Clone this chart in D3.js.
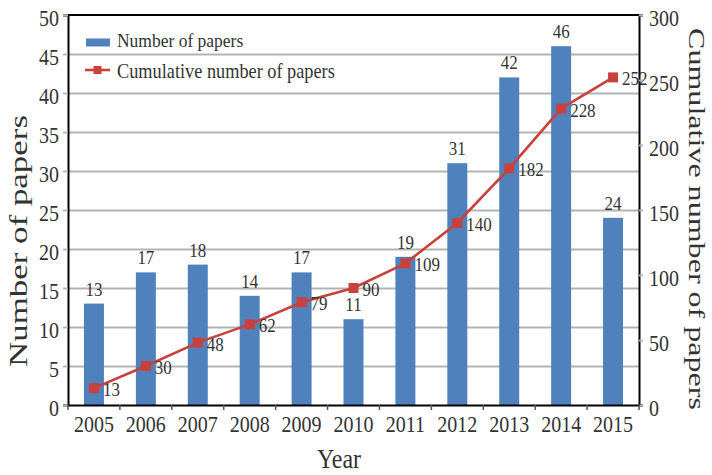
<!DOCTYPE html>
<html>
<head>
<meta charset="utf-8">
<script src="https://cdn.jsdelivr.net/npm/d3@7"></script>
<style>
  html, body { margin: 0; padding: 0; background: #fff; }
  svg { display: block; }
  text { font-family: "Liberation Serif", "Times New Roman", serif; fill: #333; }
</style>
</head>
<body>
<svg id="chart" width="712" height="475"></svg>
<script>
// Papers published per year and their running total
const years = ["2005", "2006", "2007", "2008", "2009", "2010", "2011", "2012", "2013", "2014", "2015"];
const papers = [13, 17, 18, 14, 17, 11, 19, 31, 42, 46, 24];
const cumulative = [13, 30, 48, 62, 79, 90, 109, 140, 182, 228, 252];
const leftTicks = [0, 5, 10, 15, 20, 25, 30, 35, 40, 45, 50];
const rightTicks = [0, 50, 100, 150, 200, 250, 300];

const barColor = "#4f81bd";
const lineColor = "#c9413c";
const gridColor = "#b3b3b3";

const svg = d3.select("#chart");
const plot = { left: 68, right: 639, top: 15, bottom: 405 };
const stretch = 1.15;

const x = d3.scaleBand().domain(years)
  .range([plot.left, plot.right])
  .paddingInner(0.615).paddingOuter(0.3075);
const yL = d3.scaleLinear().domain([0, 50]).range([plot.bottom, plot.top]);
const yR = d3.scaleLinear().domain([0, 300]).range([plot.bottom, plot.top]);

// horizontal gridlines
svg.append("g")
  .attr("transform", `translate(${plot.left},0)`)
  .call(d3.axisLeft(yL).tickValues(leftTicks.slice(1, -1)).tickSize(-(plot.right - plot.left)).tickFormat(""))
  .call(g => g.select(".domain").remove())
  .call(g => g.selectAll("line").attr("stroke", gridColor).attr("stroke-width", 1.8));

// bars
svg.append("g").selectAll("rect")
  .data(years)
  .join("rect")
  .attr("x", d => x(d))
  .attr("width", x.bandwidth())
  .attr("y", (d, i) => yL(papers[i]))
  .attr("height", (d, i) => yL(0) - yL(papers[i]))
  .attr("fill", barColor);

// bar value labels
svg.append("g").selectAll("text")
  .data(years)
  .join("text")
  .attr("text-anchor", "middle")
  .attr("font-size", 17)
  .attr("transform", (d, i) => `translate(${x(d) + x.bandwidth() / 2},${yL(papers[i]) - 8}) scale(1,${stretch})`)
  .text((d, i) => papers[i]);

// cumulative line
const cx = d => x(d) + x.bandwidth() / 2;
const line = d3.line().x((d, i) => cx(years[i])).y(d => yR(d));
svg.append("path")
  .datum(cumulative)
  .attr("d", line)
  .attr("fill", "none")
  .attr("stroke", lineColor)
  .attr("stroke-width", 2.6);

svg.append("g").selectAll("rect")
  .data(cumulative)
  .join("rect")
  .attr("x", (d, i) => cx(years[i]) - 5)
  .attr("y", d => yR(d) - 5)
  .attr("width", 10)
  .attr("height", 10)
  .attr("fill", lineColor);

svg.append("g").selectAll("text")
  .data(cumulative)
  .join("text")
  .attr("font-size", 17)
  .attr("transform", (d, i) => `translate(${cx(years[i]) + 9},${yR(d) + 8}) scale(1,${stretch})`)
  .text(d => d);

// axes
const fontAxis = 20;
svg.append("g")
  .attr("transform", `translate(${plot.left},0)`)
  .call(d3.axisLeft(yL).tickValues(leftTicks).tickSize(5).tickPadding(4))
  .call(g => g.select(".domain").attr("stroke", "#000").attr("stroke-width", 2))
  .call(g => g.selectAll(".tick line").attr("stroke", gridColor).attr("stroke-width", 1.8))
  .call(g => g.selectAll("text")
    .attr("font-size", fontAxis).attr("font-family", "Liberation Serif").attr("fill", "#3a3a3a")
    .attr("y", 0).attr("dy", 0).attr("x", 0)
    .attr("transform", `translate(-9,10) scale(1,${stretch})`));

svg.append("g")
  .attr("transform", `translate(${plot.right},0)`)
  .call(d3.axisRight(yR).tickValues(rightTicks).tickSize(4).tickPadding(6))
  .call(g => g.select(".domain").attr("stroke", "#000").attr("stroke-width", 2))
  .call(g => g.selectAll(".tick line").attr("stroke", gridColor).attr("stroke-width", 1.8))
  .call(g => g.selectAll("text")
    .attr("font-size", fontAxis).attr("font-family", "Liberation Serif").attr("fill", "#3a3a3a")
    .attr("y", 0).attr("dy", 0).attr("x", 0)
    .attr("transform", `translate(10,10) scale(1,${stretch})`));

svg.append("g")
  .attr("transform", `translate(0,${plot.bottom})`)
  .call(d3.axisBottom(x).tickSize(0))
  .call(g => g.select(".domain").attr("stroke", "#000").attr("stroke-width", 2))
  .call(g => g.selectAll("text")
    .attr("font-size", fontAxis).attr("font-family", "Liberation Serif").attr("fill", "#3a3a3a")
    .attr("y", 0).attr("dy", 0)
    .attr("transform", `translate(0,27) scale(1,${stretch})`));

// category boundary ticks below the x axis
svg.append("g").selectAll("line")
  .data(d3.range(years.length + 1))
  .join("line")
  .attr("x1", i => plot.left + i * x.step())
  .attr("x2", i => plot.left + i * x.step())
  .attr("y1", plot.bottom)
  .attr("y2", plot.bottom + 5)
  .attr("stroke", "#555")
  .attr("stroke-width", 1.5);

// top frame
svg.append("line")
  .attr("x1", plot.left).attr("x2", plot.right)
  .attr("y1", plot.top).attr("y2", plot.top)
  .attr("stroke", "#000").attr("stroke-width", 2);

// axis titles
svg.append("text")
  .attr("font-size", 25)
  .attr("text-anchor", "middle")
  .attr("fill", "#3a3a3a")
  .attr("transform", "translate(27,241) rotate(-90)")
  .attr("textLength", 252)
  .attr("lengthAdjust", "spacingAndGlyphs")
  .text("Number of papers");

svg.append("text")
  .attr("font-size", 24)
  .attr("text-anchor", "middle")
  .attr("fill", "#3a3a3a")
  .attr("transform", "translate(689,219) rotate(90)")
  .attr("textLength", 382)
  .attr("lengthAdjust", "spacingAndGlyphs")
  .text("Cumulative number of papers");

svg.append("text")
  .attr("font-size", 24)
  .attr("text-anchor", "middle")
  .attr("fill", "#3a3a3a")
  .attr("transform", `translate(339,468) scale(1,1.1)`)
  .text("Year");

// legend
const legend = svg.append("g");
legend.append("rect")
  .attr("x", 86).attr("y", 38.5).attr("width", 24).attr("height", 8)
  .attr("fill", barColor);
legend.append("text")
  .attr("font-size", 17.5)
  .attr("transform", `translate(117,47) scale(1,1.1)`)
  .text("Number of papers");
legend.append("line")
  .attr("x1", 85).attr("x2", 110).attr("y1", 70).attr("y2", 70)
  .attr("stroke", lineColor).attr("stroke-width", 2.6);
legend.append("rect")
  .attr("x", 93.5).attr("y", 66).attr("width", 8).attr("height", 8)
  .attr("fill", lineColor);
legend.append("text")
  .attr("font-size", 18.3)
  .attr("transform", `translate(117,78) scale(1,1.1)`)
  .text("Cumulative number of papers");
</script>
</body>
</html>
